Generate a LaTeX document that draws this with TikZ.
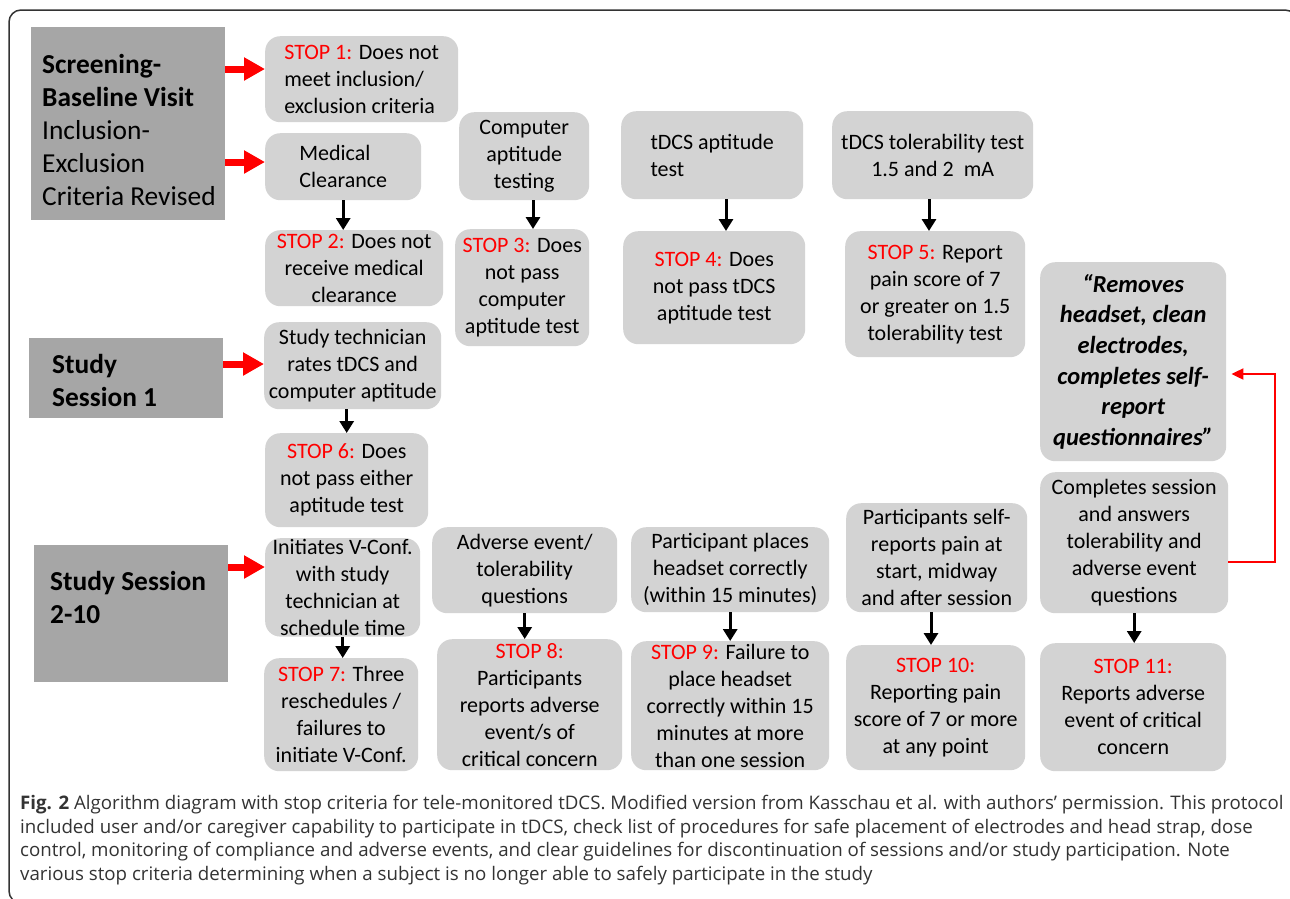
\documentclass[tikz,border=0pt]{standalone}
\usepackage{fontspec}
\setmainfont{Carlito}
\newfontfamily\capfont{Open Sans}
\usetikzlibrary{arrows.meta}
\definecolor{lblgray}{RGB}{166,166,166}
\definecolor{boxgray}{RGB}{211,211,211}
\definecolor{stopred}{RGB}{255,0,0}
\newcommand{\stp}[1]{\textcolor{stopred}{STOP #1:}}

\tikzset{
  stagebox/.style={fill=lblgray, anchor=north west, inner sep=0pt},
  stagetext/.style={font=\fontsize{27.4}{33}\selectfont, align=left, inner sep=0pt, anchor=west},
  rbox/.style={fill=boxgray, rounded corners=15pt, anchor=north west, align=center, inner sep=1pt, font=\fontsize{22}{27}\selectfont},
  redarr/.style={stopred, line width=7pt, -{Triangle[length=21pt 0 0,width=22pt 0 0]}},
  downarr/.style={black, line width=3pt, -{Triangle[length=12pt 0 0,width=14pt 0 0]}},
  backarr/.style={stopred, line width=2pt, -{Triangle[length=12pt 0 0,width=11pt 0 0]}},
}

\begin{document}
\begin{tikzpicture}[x=1pt,y=1pt,yscale=-1,xscale=1]
\useasboundingbox (0,0) rectangle (1290,898);
\clip (0,0) rectangle (1290,898);

%Frame
\draw[black!80, line width=1.5pt, rounded corners=12pt] (9,10) rectangle (1297,903);

%Stage boxes
\node[stagebox, minimum width=194pt, minimum height=193pt] (screen) at (31,27) {};
\node[stagetext] (screentxt) at (42,130) {\textbf{Screening-}\\\textbf{Baseline Visit}\\Inclusion-\\Exclusion\\Criteria Revised};
\node[stagebox, minimum width=194pt, minimum height=80pt] (sess1) at (29,338) {};
\node[stagetext, font=\fontsize{27.4}{33}\selectfont\bfseries] (sess1txt) at (52,380) {Study\\Session 1};
\node[stagebox, minimum width=194pt, minimum height=137pt] (sess2) at (34,545) {};
\node[stagetext, font=\fontsize{27.4}{33}\selectfont\bfseries] (sess2txt) at (50,597) {Study Session\\2-10};

%Column 1
\node[rbox, minimum width=193pt, minimum height=86pt, align=left] (s1) at (265,36) {\stp{1} Does not\\meet inclusion/\\exclusion criteria};
\node[rbox, minimum width=156pt, minimum height=67pt, align=left] (medclr) at (265,133) {Medical\\Clearance};
\node[rbox, minimum width=178pt, minimum height=76pt] (s2) at (265,230) {\stp{2} Does not\\receive medical\\clearance};
\node[rbox, minimum width=177pt, minimum height=87pt] (techrate) at (264,322) {Study technician\\rates tDCS and\\computer aptitude};
\node[rbox, minimum width=163pt, minimum height=94pt] (s6) at (265,433) {\stp{6} Does\\not pass either\\aptitude test};
\node[rbox, minimum width=155pt, minimum height=98pt] (vconf) at (265,538) {Initiates V-Conf.\\with study\\technician at\\schedule time};
\node[rbox, minimum width=154pt, minimum height=113pt] (s7) at (264,658) {\stp{7} Three\\reschedules /\\failures to\\initiate V-Conf.};

%Column 2
\node[rbox, minimum width=130pt, minimum height=88pt] (compapt) at (459,112) {Computer\\aptitude\\testing};
\node[rbox, minimum width=134pt, minimum height=117pt] (s3) at (455,229) {\stp{3} Does\\not pass\\computer\\aptitude test};
\node[rbox, minimum width=185pt, minimum height=86pt] (advq) at (432,527) {Adverse event/\\tolerability\\questions};
\node[rbox, minimum width=185pt, minimum height=131pt] (s8) at (437,639) {\stp{8}\\Participants\\reports adverse\\event/s of\\critical concern};

%Column 3
\node[rbox, minimum width=182pt, minimum height=88pt, align=left] (tdcsapt) at (621,111) {tDCS aptitude\\test};
\node[rbox, minimum width=182pt, minimum height=113pt] (s4) at (623,231) {\stp{4} Does\\not pass tDCS\\aptitude test};
\node[rbox, minimum width=198pt, minimum height=85pt] (headset) at (631,527) {Participant places\\headset correctly\\(within 15 minutes)};
\node[rbox, minimum width=198pt, minimum height=129pt] (s9) at (631,641) {\stp{9} Failure to\\place headset\\correctly within 15\\minutes at more\\than one session};

%Column 4
\node[rbox, minimum width=201pt, minimum height=88pt] (tdcstol) at (832,111) {tDCS tolerability test\\1.5 and 2~ mA};
\node[rbox, minimum width=180pt, minimum height=126pt] (s5) at (845,231) {\stp{5} Report\\pain score of 7\\or greater on 1.5\\tolerability test};
\node[rbox, minimum width=181pt, minimum height=109pt] (painrep) at (846,503) {Participants self-\\reports pain at\\start, midway\\and after session};
\node[rbox, minimum width=179pt, minimum height=125pt] (s10) at (846,645) {\stp{10}\\Reporting pain\\score of 7 or more\\at any point};

%Column 5
\node[rbox, minimum width=186pt, minimum height=199pt, font=\fontsize{24.5}{30.6}\selectfont\bfseries\itshape] (removes) at (1040,262) {“Removes\\headset, clean\\electrodes,\\completes self-\\report\\questionnaires”};
\node[rbox, minimum width=188pt, minimum height=141pt] (compsess) at (1040,472) {Completes session\\and answers\\tolerability and\\adverse event\\questions};
\node[rbox, minimum width=186pt, minimum height=128pt] (s11) at (1040,643) {\stp{11}\\Reports adverse\\event of critical\\concern};

%Red arrows
\draw[redarr] (screen.east |- 0,69) -- (s1.west |- 0,69);
\draw[redarr] (screen.east |- 0,162) -- (medclr.west |- 0,162);
\draw[redarr] (sess1.east |- 0,364) -- (techrate.west |- 0,364);
\draw[redarr] (sess2.east |- 0,567) -- (vconf.west |- 0,567);

%Down arrows
\draw[downarr] (medclr.south) -- (medclr.south |- s2.north);
\draw[downarr] (compapt.south -| 533,0) -- (s3.north -| 533,0);
\draw[downarr] (tdcsapt.south -| 726,0) -- (s4.north -| 726,0);
\draw[downarr] (tdcstol.south -| 929,0) -- (s5.north -| 929,0);
\draw[downarr] (s6.north |- techrate.south) -- (s6.north);
\draw[downarr] (vconf.south) -- (vconf.south |- s7.north);
\draw[downarr] (advq.south) -- (advq.south |- s8.north);
\draw[downarr] (headset.south) -- (headset.south |- s9.north);
\draw[downarr] (painrep.south -| 931,0) -- (s10.north -| 931,0);
\draw[downarr] (compsess.south) -- (compsess.south |- s11.north);

%Loop back
\coordinate (turn) at (1275,374);
\draw[backarr, shorten >=5pt] (compsess.east |- 0,562) -| (turn) -- (removes.east |- turn);

%Caption
\node[anchor=north west, inner sep=0pt, align=left, text=black!80, font=\capfont\fontsize{18.7}{23.5}\selectfont] (cap) at (20,795) {\textbf{Fig. 2} Algorithm diagram with stop criteria for tele-monitored tDCS. Modified version from Kasschau et al. with authors’ permission. This protocol\\
included user and/or caregiver capability to participate in tDCS, check list of procedures for safe placement of electrodes and head strap, dose\\
control, monitoring of compliance and adverse events, and clear guidelines for discontinuation of sessions and/or study participation. Note\\
various stop criteria determining when a subject is no longer able to safely participate in the study};
\end{tikzpicture}
\end{document}
